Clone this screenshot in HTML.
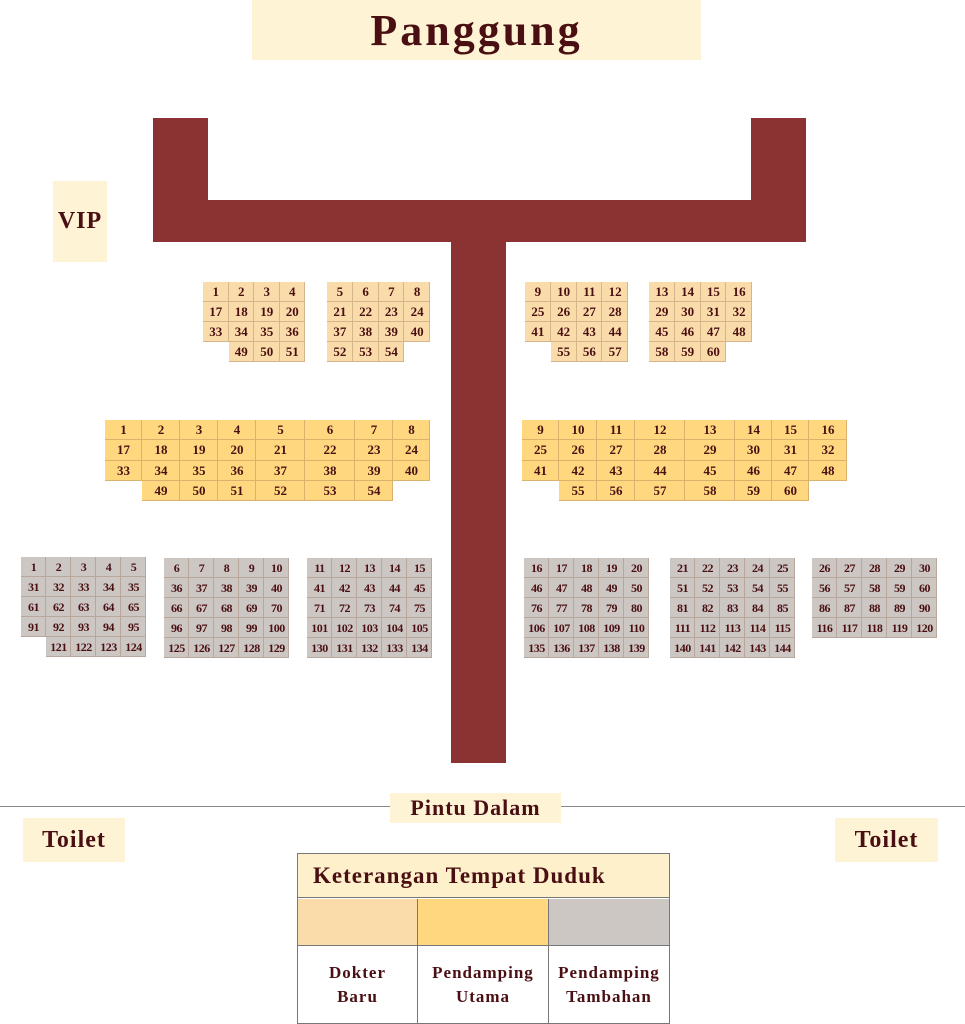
<!DOCTYPE html>
<html><head><meta charset="utf-8"><style>
body{margin:0;width:965px;height:1024px;position:relative;background:#fff;font-family:"Liberation Serif",serif;color:#4a0f12;overflow:hidden}
.a{position:absolute}
.lbl{position:absolute;background:#fff3d6;display:flex;align-items:center;justify-content:center;font-weight:bold;letter-spacing:1px}
.g{position:absolute;display:grid;grid-auto-rows:20px}
.g div{display:flex;align-items:center;justify-content:center;font-weight:bold;font-size:13px;box-shadow:inset -1px -1px 0 rgba(150,110,80,.35)}
.g div.e{background:transparent!important;box-shadow:none}
.t div{background:#fadcaa}
.m div{background:#fed77e}
.s div{background:#ccc7c3;font-size:12px;letter-spacing:-0.5px}
.r{background:#8b3232;position:absolute}
</style></head><body>
<div class="lbl" style="left:252px;top:0;width:449px;height:60px;font-size:44px;letter-spacing:3px">Panggung</div>
<div class="lbl" style="left:53px;top:181px;width:54px;height:81px;font-size:24px">VIP</div>
<div class="r" style="left:153px;top:118px;width:55px;height:124px"></div>
<div class="r" style="left:751px;top:118px;width:55px;height:124px"></div>
<div class="r" style="left:153px;top:200px;width:653px;height:42px"></div>
<div class="r" style="left:451px;top:242px;width:55px;height:521px"></div>

<div class="g t" style="left:203px;top:282px;grid-template-columns:repeat(4,25.5px)">
<div>1</div><div>2</div><div>3</div><div>4</div><div>17</div><div>18</div><div>19</div><div>20</div><div>33</div><div>34</div><div>35</div><div>36</div><div class="e"></div><div>49</div><div>50</div><div>51</div></div>
<div class="g t" style="left:327px;top:282px;grid-template-columns:repeat(4,25.75px)">
<div>5</div><div>6</div><div>7</div><div>8</div><div>21</div><div>22</div><div>23</div><div>24</div><div>37</div><div>38</div><div>39</div><div>40</div><div>52</div><div>53</div><div>54</div><div class="e"></div></div>
<div class="g t" style="left:525px;top:282px;grid-template-columns:repeat(4,25.75px)">
<div>9</div><div>10</div><div>11</div><div>12</div><div>25</div><div>26</div><div>27</div><div>28</div><div>41</div><div>42</div><div>43</div><div>44</div><div class="e"></div><div>55</div><div>56</div><div>57</div></div>
<div class="g t" style="left:649px;top:282px;grid-template-columns:repeat(4,25.75px)">
<div>13</div><div>14</div><div>15</div><div>16</div><div>29</div><div>30</div><div>31</div><div>32</div><div>45</div><div>46</div><div>47</div><div>48</div><div>58</div><div>59</div><div>60</div><div class="e"></div></div>

<div class="g m" style="left:105px;top:420px;grid-auto-rows:20.25px;grid-template-columns:37px 38px 38px 38px 49px 50px 38px 37px">
<div>1</div><div>2</div><div>3</div><div>4</div><div>5</div><div>6</div><div>7</div><div>8</div>
<div>17</div><div>18</div><div>19</div><div>20</div><div>21</div><div>22</div><div>23</div><div>24</div>
<div>33</div><div>34</div><div>35</div><div>36</div><div>37</div><div>38</div><div>39</div><div>40</div>
<div class="e"></div><div>49</div><div>50</div><div>51</div><div>52</div><div>53</div><div>54</div><div class="e"></div></div>
<div class="g m" style="left:522px;top:420px;grid-auto-rows:20.25px;grid-template-columns:37px 38px 38px 50px 50px 37px 37px 38px">
<div>9</div><div>10</div><div>11</div><div>12</div><div>13</div><div>14</div><div>15</div><div>16</div>
<div>25</div><div>26</div><div>27</div><div>28</div><div>29</div><div>30</div><div>31</div><div>32</div>
<div>41</div><div>42</div><div>43</div><div>44</div><div>45</div><div>46</div><div>47</div><div>48</div>
<div class="e"></div><div>55</div><div>56</div><div>57</div><div>58</div><div>59</div><div>60</div><div class="e"></div></div>

<div class="g s" style="left:21px;top:557px;grid-template-columns:repeat(5,25px)">
<div>1</div><div>2</div><div>3</div><div>4</div><div>5</div><div>31</div><div>32</div><div>33</div><div>34</div><div>35</div><div>61</div><div>62</div><div>63</div><div>64</div><div>65</div><div>91</div><div>92</div><div>93</div><div>94</div><div>95</div><div class="e"></div><div>121</div><div>122</div><div>123</div><div>124</div></div>
<div class="g s" style="left:164px;top:558px;grid-template-columns:repeat(5,25px)">
<div>6</div><div>7</div><div>8</div><div>9</div><div>10</div><div>36</div><div>37</div><div>38</div><div>39</div><div>40</div><div>66</div><div>67</div><div>68</div><div>69</div><div>70</div><div>96</div><div>97</div><div>98</div><div>99</div><div>100</div><div>125</div><div>126</div><div>127</div><div>128</div><div>129</div></div>
<div class="g s" style="left:307px;top:558px;grid-template-columns:repeat(5,25px)">
<div>11</div><div>12</div><div>13</div><div>14</div><div>15</div><div>41</div><div>42</div><div>43</div><div>44</div><div>45</div><div>71</div><div>72</div><div>73</div><div>74</div><div>75</div><div>101</div><div>102</div><div>103</div><div>104</div><div>105</div><div>130</div><div>131</div><div>132</div><div>133</div><div>134</div></div>
<div class="g s" style="left:524px;top:558px;grid-template-columns:repeat(5,25px)">
<div>16</div><div>17</div><div>18</div><div>19</div><div>20</div><div>46</div><div>47</div><div>48</div><div>49</div><div>50</div><div>76</div><div>77</div><div>78</div><div>79</div><div>80</div><div>106</div><div>107</div><div>108</div><div>109</div><div>110</div><div>135</div><div>136</div><div>137</div><div>138</div><div>139</div></div>
<div class="g s" style="left:670px;top:558px;grid-template-columns:repeat(5,25px)">
<div>21</div><div>22</div><div>23</div><div>24</div><div>25</div><div>51</div><div>52</div><div>53</div><div>54</div><div>55</div><div>81</div><div>82</div><div>83</div><div>84</div><div>85</div><div>111</div><div>112</div><div>113</div><div>114</div><div>115</div><div>140</div><div>141</div><div>142</div><div>143</div><div>144</div></div>
<div class="g s" style="left:812px;top:558px;grid-template-columns:repeat(5,25px)">
<div>26</div><div>27</div><div>28</div><div>29</div><div>30</div><div>56</div><div>57</div><div>58</div><div>59</div><div>60</div><div>86</div><div>87</div><div>88</div><div>89</div><div>90</div><div>116</div><div>117</div><div>118</div><div>119</div><div>120</div></div>

<div class="a" style="left:0;top:806px;width:965px;height:1px;background:#888"></div>
<div class="lbl" style="left:390px;top:793px;width:171px;height:30px;font-size:22px">Pintu Dalam</div>
<div class="lbl" style="left:23px;top:818px;width:102px;height:44px;font-size:24px">Toilet</div>
<div class="lbl" style="left:835px;top:818px;width:103px;height:44px;font-size:24px">Toilet</div>

<div class="a" style="left:297px;top:853px;width:371px;height:169px;border:1px solid #777">
<div class="a" style="left:0;top:0;width:371px;height:44px;background:#fff0cc;border-bottom:1px solid #777;display:flex;align-items:center;padding-left:15px;box-sizing:border-box;font-weight:bold;font-size:23px;letter-spacing:1px">Keterangan Tempat Duduk</div>
<div class="a" style="left:0;top:45px;width:119px;height:46px;background:#fadcaa;border-right:1px solid #777"></div>
<div class="a" style="left:120px;top:45px;width:130px;height:46px;background:#fed77e;border-right:1px solid #777"></div>
<div class="a" style="left:251px;top:45px;width:120px;height:46px;background:#ccc7c3"></div>
<div class="a" style="left:0;top:91px;width:371px;height:1px;background:#777"></div>
<div class="a" style="left:0;top:92px;width:119px;height:77px;border-right:1px solid #777;display:flex;align-items:center;justify-content:center;text-align:center;font-weight:bold;font-size:17px;line-height:24px;letter-spacing:1px">Dokter<br>Baru</div>
<div class="a" style="left:120px;top:92px;width:130px;height:77px;border-right:1px solid #777;display:flex;align-items:center;justify-content:center;text-align:center;font-weight:bold;font-size:17px;line-height:24px;letter-spacing:1px">Pendamping<br>Utama</div>
<div class="a" style="left:251px;top:92px;width:120px;height:77px;display:flex;align-items:center;justify-content:center;text-align:center;font-weight:bold;font-size:17px;line-height:24px;letter-spacing:1px">Pendamping<br>Tambahan</div>
</div>
</body></html>
